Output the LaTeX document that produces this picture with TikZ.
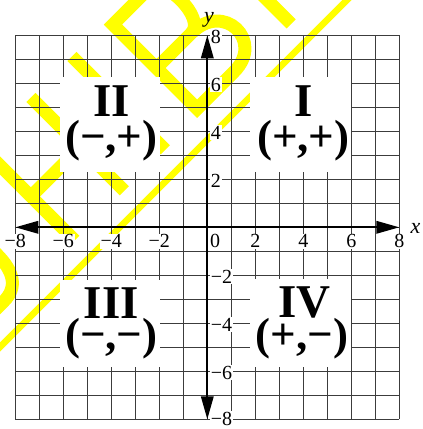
\documentclass[tikz,border=0pt]{standalone}
\usepackage{fontspec}
\setmainfont{Liberation Serif}
\usetikzlibrary{arrows.meta}
\definecolor{wmyellow}{RGB}{255,255,0}
\definecolor{gridgray}{RGB}{60,60,60}
\begin{document}
\begin{tikzpicture}[x=24pt,y=24pt,
  gridline/.style={draw=gridgray,line width=1pt},
  axisline/.style={draw=black,line width=1.8pt},
  axistip/.style={{Triangle[length=23pt,width=12.5pt]}-{Triangle[length=23pt,width=12.5pt]}},
  wm/.style={draw=wmyellow,line width=13pt,line cap=butt,line join=miter},
  numlab/.style={font=\fontsize{20}{24}\selectfont,fill=white,inner sep=1pt},
  axname/.style={font=\fontsize{22}{26}\selectfont\itshape,inner sep=0pt,anchor=base},
  quadbox/.style={fill=white},
  quadnum/.style={font=\fontsize{47}{50}\selectfont\bfseries,inner sep=0pt,anchor=base,text depth=0pt},
  quadsign/.style={font=\fontsize{45}{48}\selectfont\bfseries,inner sep=0pt,anchor=base,text height=28pt,text depth=9pt}
]
\useasboundingbox (-207.3pt,-201.7pt) rectangle (215.7pt,227.3pt);

% watermark
\begin{scope}[shift={(-49.8pt,69.8pt)},rotate=45,x=1pt,y=1pt]
  \draw[wm,line width=6.5pt] (-270,-22.6) -- (270,-22.6);
  \draw[wm] (-270,7) -- (-210,7) .. controls (-190,7) and (-182,22) .. (-182,45) -- (-182,120);
  \draw[wm] (-117,0) -- (-117,132);
  \draw[wm] (-47,0) -- (-47,132);
  \draw[wm] (-117,62) -- (-47,62);
  \draw[wm] (11,0) -- (11,132);
  \draw[wm] (112,125.5) -- (62.5,125.5) -- (62.5,6.5) -- (115,6.5)
        .. controls (158,6.5) and (158,64) .. (112,64) -- (62.5,64);
  \draw[wm] (112,64) .. controls (133,64) and (133,125.5) .. (112,125.5);
  \draw[wm] (189,0) -- (189,132);
\end{scope}

% grid
\foreach \i in {-8,...,8} {
  \draw[gridline] (\i,-8) -- (\i,8);
  \draw[gridline] (-8,\i) -- (8,\i);
}

% quadrant boxes
\fill[quadbox] (-6.15,2.3) rectangle (-1.97,6.25);
\fill[quadbox] (1.78,2.3) rectangle (6.0,6.25);
\fill[quadbox] (-6.15,-2.2) rectangle (-1.97,-5.82);
\fill[quadbox] (1.78,-2.15) rectangle (6.0,-5.82);

% axes
\coordinate (xneg) at (-8,0);
\coordinate (xpos) at (8,0);
\coordinate (yneg) at (0,-8);
\coordinate (ypos) at (0,8);
\draw[axisline,axistip] (xneg) -- (xpos);
\draw[axisline,axistip] (yneg) -- (ypos);

% x labels
\foreach \v/\t/\n in {-8/−8/a,-6/−6/b,-4/−4/c,-2/−2/d,2/2/e,4/4/f,6/6/g,8/8/h}
  \node[numlab,anchor=base] (xlab\n) at (\v,-0.86) {\t};
\node[numlab,anchor=base] (xlabzero) at (0.33,-0.86) {0};

% y labels
\foreach \v/\t/\n in {8/8/a,6/6/b,4/4/c,2/2/d,-2/−2/e,-4/−4/f,-6/−6/g}
  \node[numlab,anchor=base west] (ylab\n) at (0.1,{\v-0.33}) {\t};
\node[numlab,anchor=base west] (ylabh) at (0.1,-8.27) {−8};

\node[axname] (xname) at (8.68,-0.24) {x};
\node[axname] (yname) at (0.07,8.55) {y};

% quadrant labels
\node[quadnum] (q2n) at (-4,4.6) {II};
\node[quadsign] (q2s) at (-4,3.14) {(−,+)};
\node[quadnum] (q1n) at (4,4.6) {I};
\node[quadsign] (q1s) at (4,3.14) {(+,+)};
\node[quadnum] (q3n) at (-4,-3.82) {III};
\node[quadsign] (q3s) at (-4,-5.11) {(−,−)};
\node[quadnum] (q4n) at (4.05,-3.75) {IV};
\node[quadsign] (q4s) at (3.95,-5.08) {(+,−)};
\end{tikzpicture}
\end{document}
